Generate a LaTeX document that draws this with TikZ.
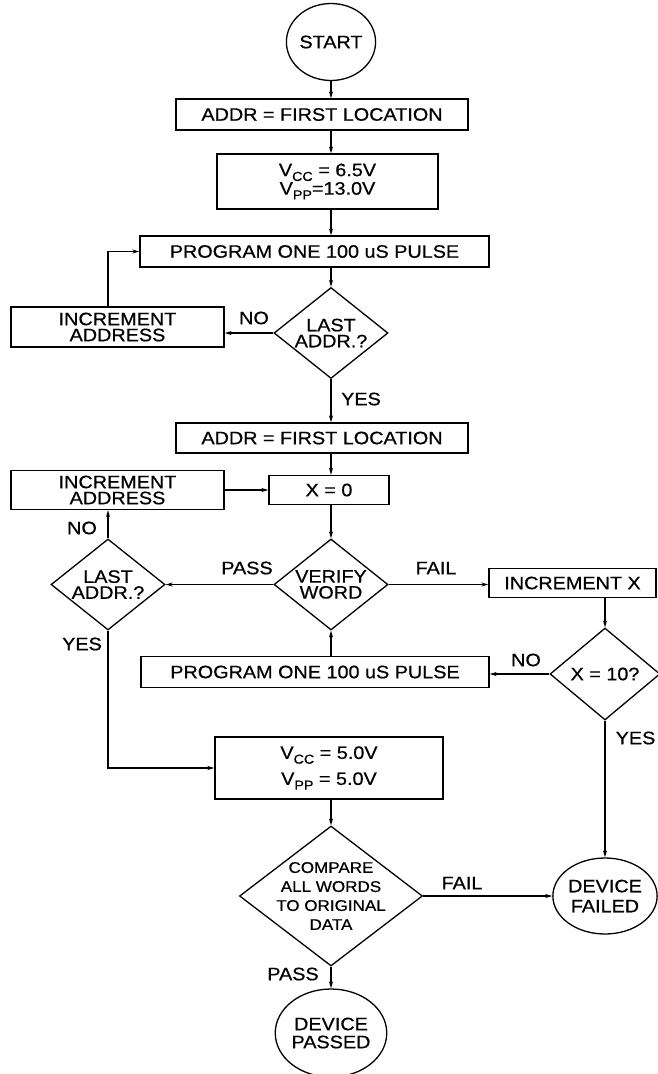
\documentclass[tikz,border=0pt]{standalone}
\usepackage{fontspec}
\setmainfont{Liberation Sans}[FakeStretch=1.1,FakeBold=0.6]
\usetikzlibrary{positioning,calc,shapes.geometric,arrows.meta}
\newcommand{\lowidx}[1]{\raisebox{-0.5ex}{\fontsize{13}{13}\selectfont #1}}

\begin{document}
\begin{tikzpicture}
        [x=1pt,y=-1pt,
        line width=1.3pt,
        >={Stealth[length=7pt,width=4pt]},
        every node/.style={font=\fontsize{18}{16}\selectfont,align=center,inner sep=0pt},
        block/.style={draw,rectangle},
        decision/.style={draw,diamond,inner sep=-20pt,minimum width=114pt,minimum height=91pt},
        terminal/.style={draw,ellipse},
        tag/.style={draw=none}]
        \useasboundingbox (0,0) rectangle (657,1074);
        \coordinate (col) at (331,0);
        \node[terminal,minimum width=78pt,minimum height=77pt] (start) at (331,42) {START};
        \node[block,minimum width=292pt,minimum height=31pt] (addr1) at (322,114.5) {ADDR = FIRST LOCATION};
        \node[block,minimum width=221pt,minimum height=55pt,font=\fontsize{18}{17}\selectfont] (vcc1) at (327.5,181.5)
            {V\lowidx{CC} = 6.5V\\V\lowidx{PP}=13.0V};
        \node[block,minimum width=349pt,minimum height=31pt] (prog1) at (314.5,251.5) {PROGRAM ONE 100 uS PULSE};
        \node[decision] (last1) at (331,333) {LAST\\ADDR.?};
        \node[block,minimum width=213pt,minimum height=40pt] (inc1) at (117.5,327) {INCREMENT\\ADDRESS};
        \node[block,minimum width=292pt,minimum height=30pt] (addr2) at (322,438) {ADDR = FIRST LOCATION};
        \node[block,minimum width=213pt,minimum height=39pt] (inc2) at (117.5,490) {INCREMENT\\ADDRESS};
        \node[block,minimum width=120pt,minimum height=29pt] (x0) at (329,490) {X = 0};
        \node[decision] (last2) at (108,584.5) {LAST\\ADDR.?};
        \node[decision] (verify) at (331,584.5) {VERIFY\\WORD};
        \node[block,minimum width=167pt,minimum height=29pt] (incx) at (572.5,583) {INCREMENT X};
        \node[decision,minimum width=110pt,minimum height=92pt] (x10) at (605,674) {X = 10?};
        \node[block,minimum width=348pt,minimum height=31pt] (prog2) at (315,672) {PROGRAM ONE 100 uS PULSE};
        \node[block,minimum width=228pt,minimum height=62pt,font=\fontsize{18}{26}\selectfont] (vcc2) at (329,768)
            {V\lowidx{CC} = 5.0V\\V\lowidx{PP} = 5.0V};
        \node[decision,minimum width=183pt,minimum height=140pt,font=\fontsize{15.5}{19}\selectfont] (cmp) at (331,896)
            {COMPARE\\ALL WORDS\\TO ORIGINAL\\DATA};
        \node[terminal,minimum width=90pt,minimum height=76pt,font=\fontsize{18}{20}\selectfont] (failed) at (605,896) {DEVICE\\FAILED};
        \node[terminal,minimum width=104pt,minimum height=88pt,font=\fontsize{18}{18}\selectfont] (passed) at (331,1033) {DEVICE\\PASSED};

        \node[tag] (lno1) at (254,318) {NO};
        \node[tag] (lyes1) at (361,399) {YES};
        \node[tag] (lno2) at (82,528) {NO};
        \node[tag] (lpass1) at (247,568) {PASS};
        \node[tag] (lfail1) at (436,568) {FAIL};
        \node[tag] (lyes2) at (82,644) {YES};
        \node[tag] (lno3) at (526,660) {NO};
        \node[tag,anchor=east] (lyes3) at (656,738) {YES};
        \node[tag] (lfail2) at (462,883) {FAIL};
        \node[tag] (lpass2) at (293,974) {PASS};

        \draw[->] (start) -- (col |- addr1.north);
        \draw[->] (col |- addr1.south) -- (col |- vcc1.north);
        \draw[->] (col |- vcc1.south) -- (col |- prog1.north);
        \draw[->] (col |- prog1.south) -- (last1.north);
        \draw[->] (last1.west) -- (last1.west -| inc1.east);
        \draw[->] (last2 |- inc1.north) |- (prog1.west);
        \draw[->] (last1.south) -- (col |- addr2.north);
        \draw[->] (col |- addr2.south) -- (col |- x0.north);
        \draw[->] (inc2.east) -- (inc2.east -| x0.west);
        \draw[->] (col |- x0.south) -- (verify.north);
        \draw[->] (verify.west) -- (last2.east);
        \draw[->] (verify.east) -- (verify.east -| incx.west);
        \draw[->] (x10 |- incx.south) -- (x10.north);
        \draw[->] (x10.west) -- (x10.west -| prog2.east);
        \draw[->] (col |- prog2.north) -- (verify.south);
        \draw[->] (last2.north) -- (last2 |- inc2.south);
        \draw[->] (last2.south) |- (vcc2.west);
        \draw[->] (x10.south) -- (failed.north);
        \draw[->] (col |- vcc2.south) -- (cmp.north);
        \draw[->] (cmp.east) -- (failed.west);
        \draw[->] (cmp.south) -- (passed.north);
\end{tikzpicture}
\end{document}
